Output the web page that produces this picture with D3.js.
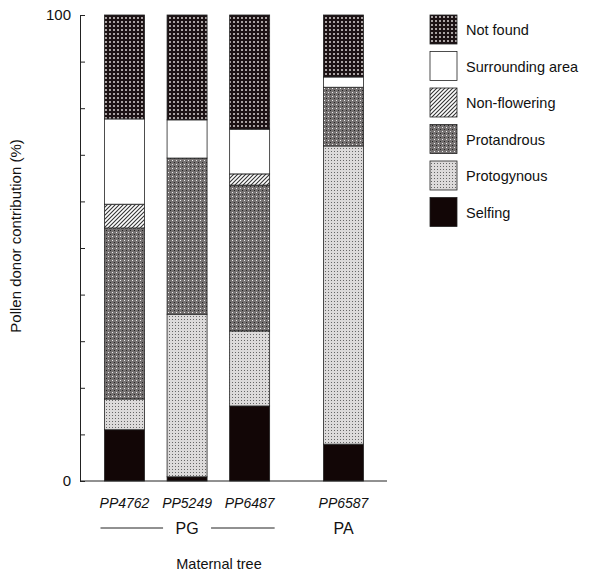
<!DOCTYPE html>
<html>
<head>
<meta charset="utf-8">
<script src="https://cdn.jsdelivr.net/npm/d3@7"></script>
<style>
  body { margin: 0; background: #fff; }
  text { font-family: "Liberation Sans", Arial, sans-serif; fill: #111; }
</style>
</head>
<body>
<div id="chart"></div>
<script>
// data (percent of pollen donors)
const trees = ['PP4762', 'PP5249', 'PP6487', 'PP6587'];
const groups = ['PG', 'PG', 'PG', 'PA'];
const categories = ['Selfing', 'Protogynous', 'Protandrous', 'Non-flowering', 'Surrounding area', 'Not found'];
const selfing = [11.0, 0.9, 16.1, 7.9];
const protogynous = [6.6, 34.9, 16.1, 64.0];
const protandrous = [36.7, 33.5, 31.3, 12.6];
const nonFlowering = [5.1, 0, 2.4, 0];
const surrounding = [18.3, 8.2, 9.6, 2.2];
const notFound = [22.3, 22.5, 24.5, 13.3];
const yTicks = [0, 10, 20, 30, 40, 50, 60, 70, 80, 90, 100];

const seriesValues = [selfing, protogynous, protandrous, nonFlowering, surrounding, notFound];
const fills = ['#120606', 'url(#pGyn)', 'url(#pAnd)', 'url(#pHatch)', '#fff', 'url(#pNot)'];

const svg = d3.select('#chart').append('svg')
  .attr('width', 596)
  .attr('height', 576);

// fill patterns
const defs = svg.append('defs');
const pNot = defs.append('pattern').attr('id', 'pNot').attr('patternUnits', 'userSpaceOnUse')
  .attr('width', 4).attr('height', 4);
pNot.append('rect').attr('width', 4).attr('height', 4).attr('fill', '#1c1214');
pNot.append('rect').attr('x', 1).attr('y', 1).attr('width', 2).attr('height', 2).attr('fill', '#a9a2a2');

const pAnd = defs.append('pattern').attr('id', 'pAnd').attr('patternUnits', 'userSpaceOnUse')
  .attr('width', 4).attr('height', 4);
pAnd.append('rect').attr('width', 4).attr('height', 4).attr('fill', '#757171');
pAnd.append('rect').attr('x', 0).attr('y', 0).attr('width', 1).attr('height', 1).attr('fill', '#eee');
pAnd.append('rect').attr('x', 2).attr('y', 2).attr('width', 1).attr('height', 1).attr('fill', '#222');

const pGyn = defs.append('pattern').attr('id', 'pGyn').attr('patternUnits', 'userSpaceOnUse')
  .attr('width', 3).attr('height', 3);
pGyn.append('rect').attr('width', 3).attr('height', 3).attr('fill', '#dcdada');
pGyn.append('rect').attr('x', 1).attr('y', 1).attr('width', 1).attr('height', 1).attr('fill', '#666');

const pHatch = defs.append('pattern').attr('id', 'pHatch').attr('patternUnits', 'userSpaceOnUse')
  .attr('width', 4).attr('height', 4);
pHatch.append('rect').attr('width', 4).attr('height', 4).attr('fill', '#fff');
pHatch.append('path').attr('d', 'M-1,1 l2,-2 M0,4 l4,-4 M3,5 l2,-2')
  .attr('stroke', '#333').attr('stroke-width', 1.1);

// scales - PA sits after a half-slot gap
const slots = trees.map((t, i) => i + (i > 0 && groups[i] !== groups[i - 1] ? 0.5 : 0));
const x = d3.scaleLinear().domain([0, 3.5]).range([124.5, 343.5]);
const bw = 40;
const y = d3.scaleLinear().domain([0, 100]).range([481, 15]);

// stacked data
const rows = trees.map((t, i) => {
  const r = { tree: t };
  categories.forEach((c, k) => { r[c] = seriesValues[k][i]; });
  return r;
});
const stacked = d3.stack().keys(categories)(rows);

stacked.forEach((layer, k) => {
  svg.append('g')
    .selectAll('rect')
    .data(layer)
    .enter()
    .append('rect')
    .attr('x', (d, i) => x(slots[i]) - bw / 2)
    .attr('y', d => y(d[1]))
    .attr('width', bw)
    .attr('height', d => y(d[0]) - y(d[1]))
    .attr('fill', fills[k])
    .attr('stroke', '#222')
    .attr('stroke-width', d => (d[1] - d[0]) > 0 ? 0.8 : 0);
});

// y axis with inward ticks, only ends labelled
const yAxis = svg.append('g')
  .attr('transform', 'translate(80,0)')
  .call(d3.axisLeft(y).tickValues(yTicks).tickSize(-5).tickSizeOuter(0).tickPadding(9)
    .tickFormat(d => (d === 0 || d === 100) ? d : ''));
yAxis.selectAll('text').style('font-size', '15px').attr('fill', '#111');
yAxis.selectAll('line, path').attr('stroke', '#222');

// baseline
svg.append('line')
  .attr('x1', 80).attr('x2', 387)
  .attr('y1', y(0)).attr('y2', y(0))
  .attr('stroke', '#222');

// tree labels
svg.append('g')
  .selectAll('text')
  .data(trees)
  .enter()
  .append('text')
  .attr('x', (d, i) => x(slots[i]))
  .attr('y', 508)
  .attr('text-anchor', 'middle')
  .style('font-size', '14px')
  .style('font-style', 'italic')
  .text(d => d);

// group labels with bracket lines
const groupNames = Array.from(new Set(groups));
groupNames.forEach(g => {
  const idx = groups.map((v, i) => v === g ? i : -1).filter(i => i >= 0);
  const x0 = x(slots[idx[0]]) - bw / 2 - 4;
  const x1 = x(slots[idx[idx.length - 1]]) + bw / 2 + 5;
  const xm = d3.mean(idx, i => x(slots[i]));
  if (idx.length > 1) {
    svg.append('line').attr('x1', x0).attr('x2', xm - 24).attr('y1', 528).attr('y2', 528)
      .attr('stroke', '#222');
    svg.append('line').attr('x1', xm + 24).attr('x2', x1).attr('y1', 528).attr('y2', 528)
      .attr('stroke', '#222');
  }
  svg.append('text')
    .attr('x', xm)
    .attr('y', 534)
    .attr('text-anchor', 'middle')
    .style('font-size', '16px')
    .text(g);
});

svg.append('text')
  .attr('x', 219)
  .attr('y', 569)
  .attr('text-anchor', 'middle')
  .style('font-size', '14.5px')
  .text('Maternal tree');

svg.append('text')
  .attr('transform', 'translate(21,236) rotate(-90)')
  .attr('text-anchor', 'middle')
  .style('font-size', '15px')
  .text('Pollen donor contribution (%)');

// legend, top item is "Not found"
const legendItems = categories.map((c, k) => ({ name: c, fill: fills[k] })).reverse();
const legend = svg.append('g').attr('transform', 'translate(430,15)');
legendItems.forEach((d, i) => {
  legend.append('rect')
    .attr('x', 0).attr('y', i * 36.5)
    .attr('width', 27).attr('height', 29)
    .attr('fill', d.fill)
    .attr('stroke', '#222').attr('stroke-width', 0.8);
  legend.append('text')
    .attr('x', 36).attr('y', i * 36.5 + 20)
    .style('font-size', '14.5px')
    .text(d.name);
});
</script>
</body>
</html>
